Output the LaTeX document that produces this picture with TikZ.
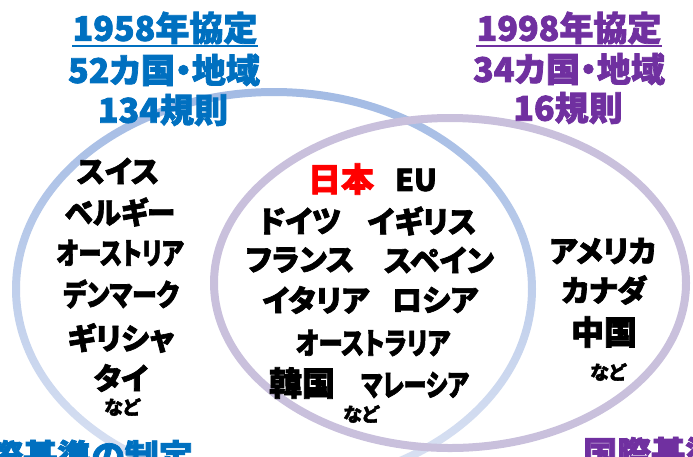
\documentclass[tikz,border=0pt]{standalone}
\usepackage{fontspec}
\newfontfamily\jp{Noto Sans CJK JP}[RawFeature=+palt, BoldFeatures={FakeBold=2.2}]
\definecolor{tblue}{HTML}{0070C0}
\definecolor{tpurple}{HTML}{7030A0}
\definecolor{ringblueA}{HTML}{A3BBE4}
\definecolor{ringblueB}{HTML}{DCE3F3}
\definecolor{ringpurple}{HTML}{C9C0DC}
\definecolor{jred}{HTML}{FF0000}
\newcommand{\narrow}[2]{\scalebox{#1}[1]{#2}}
\begin{document}
\begin{tikzpicture}[x=1pt,y=-1pt,
  title/.style={font=\jp\bfseries\fontsize{34}{36}\selectfont, inner sep=0pt},
  country/.style={font=\jp\bfseries\fontsize{30}{32}\selectfont, inner sep=0pt},
  bigcountry/.style={font=\jp\bfseries\fontsize{33}{35}\selectfont, inner sep=0pt},
  etc/.style={font=\jp\bfseries\fontsize{19}{21}\selectfont, inner sep=0pt},
  uline/.style={line width=1.6pt},
]
\useasboundingbox (0,0) rectangle (693,456);
\clip (0,0) rectangle (693,456);
\fill[white] (0,0) rectangle (693,456);

% rings
\shade[even odd rule, shading angle=-50, top color=ringblueA, bottom color=ringblueB]
  (274,289) ellipse [x radius=262, y radius=201]
  (274,289) ellipse [x radius=254, y radius=193];
\fill[ringpurple, even odd rule]
  (450,283) ellipse [x radius=240, y radius=169]
  (450,283) ellipse [x radius=232, y radius=161];

% left title
\node[title, text=tblue] (t1a) at (165,28) {1958年協定};
\draw[tblue, uline] ([yshift=-1.5pt]t1a.south west) -- ([yshift=-1.5pt]t1a.south east);
\node[title, text=tblue] (t1b) at (164,70) {52カ国・地域};
\node[title, text=tblue] (t1c) at (163,110) {134規則};

% right title
\node[title, text=tpurple] (t2a) at (569,28) {1998年協定};
\draw[tpurple, uline] ([yshift=-1.5pt]t2a.south west) -- ([yshift=-1.5pt]t2a.south east);
\node[title, text=tpurple] (t2b) at (569,69) {34カ国・地域};
\node[title, text=tpurple] (t2c) at (568,108) {16規則};

% left only
\node[country] (l1) at (118,171) {スイス};
\node[country] (l2) at (120,212) {\narrow{0.95}{ベルギー}};
\node[country] (l3) at (120,253) {\narrow{0.78}{オーストリア}};
\node[country] (l4) at (121,294) {\narrow{0.83}{デンマーク}};
\node[country] (l5) at (121,338) {ギリシャ};
\node[country] (l6) at (121,378) {タイ};
\node[etc] (l7) at (122,407) {など};

% both
\node[bigcountry, text=jred] (m1) at (341,179) {日本};
\node[country] (m2) at (416,180) {EU};
\node[country] (m3) at (300,221) {ドイツ};
\node[country] (m4) at (422,221) {イギリス};
\node[country] (m5) at (300,260) {フランス};
\node[country] (m6) at (439,260) {スペイン};
\node[country] (m7) at (316,300) {イタリア};
\node[country] (m8) at (435,300) {ロシア};
\node[country] (m9) at (373,343) {\narrow{0.81}{オーストラリア}};
\node[bigcountry] (m10) at (302,383) {韓国};
\node[country] (m11) at (415,385) {\narrow{0.77}{マレーシア}};
\node[etc] (m12) at (361,414) {など};

% right only
\node[country] (r1) at (603,251) {アメリカ};
\node[country] (r2) at (604,290) {カナダ};
\node[bigcountry] (r3) at (604,332) {中国};
\node[etc] (r4) at (608,372) {など};

% bottom (cut off)
\node[title, text=tblue, anchor=base east] (b1) at (193,469) {国際基準の制定};
\node[title, text=tpurple, anchor=base west] (b2) at (583,466) {国際基準};
\end{tikzpicture}
\end{document}
